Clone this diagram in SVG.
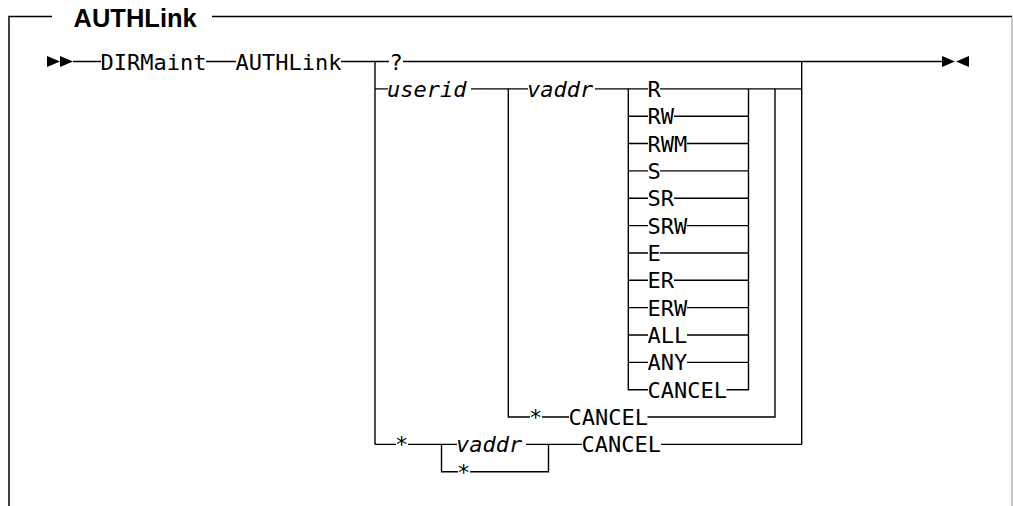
<svg xmlns="http://www.w3.org/2000/svg" width="1013" height="506" viewBox="0 0 1013 506">
<style>
.t{font-family:"DejaVu Sans Mono","Liberation Mono",monospace;font-size:22px;fill:#000}
.i{font-style:italic}
.title{font-family:"Liberation Sans",Arial,sans-serif;font-weight:bold;font-size:25.5px;fill:#000}
.ln{stroke:#000;stroke-width:1.4;fill:none}
.fr{stroke:#000;stroke-width:1.5;fill:none}
.ar{fill:#000}
</style>
<rect width="1013" height="506" fill="#fff"/>
<g id="frame">
<path class="fr" d="M9,506 V16.5 H52 M212,16.5 H1012"/>
<line x1="1012" y1="17" x2="1012" y2="506" stroke="#a0a0a0" stroke-width="1.2"/>
<text class="title" x="73.5" y="26.5">AUTHLink</text>
</g>
<g id="connectors">
<polygon class="ar" points="47,56 60,61.5 47,67"/>
<polygon class="ar" points="60,56 73,61.5 60,67"/>
<polygon class="ar" points="942,56 955,61.5 942,67"/>
<polygon class="ar" points="969,56 956,61.5 969,67"/>
<path class="ln" d="M73,61.5 H101 M206,61.5 H236 M341,61.5 H389 M403,61.5 H942"/>
<path class="ln" d="M375,61.5 V444.4"/>
<path class="ln" d="M801.7,61.5 V444.4"/>
<path class="ln" d="M375,88.85 H388 M471,88.85 H528 M595,88.85 H648 M660,88.85 H801.7"/>
<path class="ln" d="M508.3,88.85 V417.05 H530 M542,417.05 H569 M647.5,417.05 H775 V88.85"/>
<path class="ln" d="M628.3,88.85 V389.7 H648 M726.5,389.7 H748.5 V88.85"/>
<path class="ln" d="M628.3,116.2 H648 M674,116.2 H748.5"/>
<path class="ln" d="M628.3,143.55 H648 M687,143.55 H748.5"/>
<path class="ln" d="M628.3,170.9 H648 M660,170.9 H748.5"/>
<path class="ln" d="M628.3,198.25 H648 M674,198.25 H748.5"/>
<path class="ln" d="M628.3,225.6 H648 M687,225.6 H748.5"/>
<path class="ln" d="M628.3,252.95 H648 M660,252.95 H748.5"/>
<path class="ln" d="M628.3,280.3 H648 M674,280.3 H748.5"/>
<path class="ln" d="M628.3,307.65 H648 M687,307.65 H748.5"/>
<path class="ln" d="M628.3,335 H648 M687,335 H748.5"/>
<path class="ln" d="M628.3,362.35 H648 M687,362.35 H748.5"/>
<path class="ln" d="M375,444.4 H396 M408,444.4 H457 M526,444.4 H582 M661,444.4 H801.7"/>
<path class="ln" d="M441.5,444.4 V471.75 H458 M470,471.75 H548.5 V444.4"/>
</g>
<g id="n-dirmaint"><text class="t" x="100.5" y="69.5">DIRMaint</text></g>
<g id="n-authlink"><text class="t" x="235.5" y="69.5">AUTHLink</text></g>
<g id="n-q"><text class="t" x="389.5" y="69.5">?</text></g>
<g id="n-userid"><text class="t i" x="387" y="96.85">userid</text></g>
<g id="n-vaddr1"><text class="t i" x="527" y="96.85">vaddr</text></g>
<g id="n-R"><text class="t" x="647.5" y="96.85">R</text></g>
<g id="n-RW"><text class="t" x="647.5" y="124.2">RW</text></g>
<g id="n-RWM"><text class="t" x="647.5" y="151.55">RWM</text></g>
<g id="n-S"><text class="t" x="647.5" y="178.9">S</text></g>
<g id="n-SR"><text class="t" x="647.5" y="206.25">SR</text></g>
<g id="n-SRW"><text class="t" x="647.5" y="233.6">SRW</text></g>
<g id="n-E"><text class="t" x="647.5" y="260.95">E</text></g>
<g id="n-ER"><text class="t" x="647.5" y="288.3">ER</text></g>
<g id="n-ERW"><text class="t" x="647.5" y="315.65">ERW</text></g>
<g id="n-ALL"><text class="t" x="647.5" y="343">ALL</text></g>
<g id="n-ANY"><text class="t" x="647.5" y="370.35">ANY</text></g>
<g id="n-CANCEL1"><text class="t" x="647.5" y="397.7">CANCEL</text></g>
<g id="n-star1"><text class="t" x="529" y="425.05">*</text></g>
<g id="n-CANCEL2"><text class="t" x="568.5" y="425.05">CANCEL</text></g>
<g id="n-star2"><text class="t" x="395" y="452.4">*</text></g>
<g id="n-vaddr2"><text class="t i" x="456" y="452.4">vaddr</text></g>
<g id="n-CANCEL3"><text class="t" x="581.5" y="452.4">CANCEL</text></g>
<g id="n-star3"><text class="t" x="457" y="479.75">*</text></g>
</svg>
